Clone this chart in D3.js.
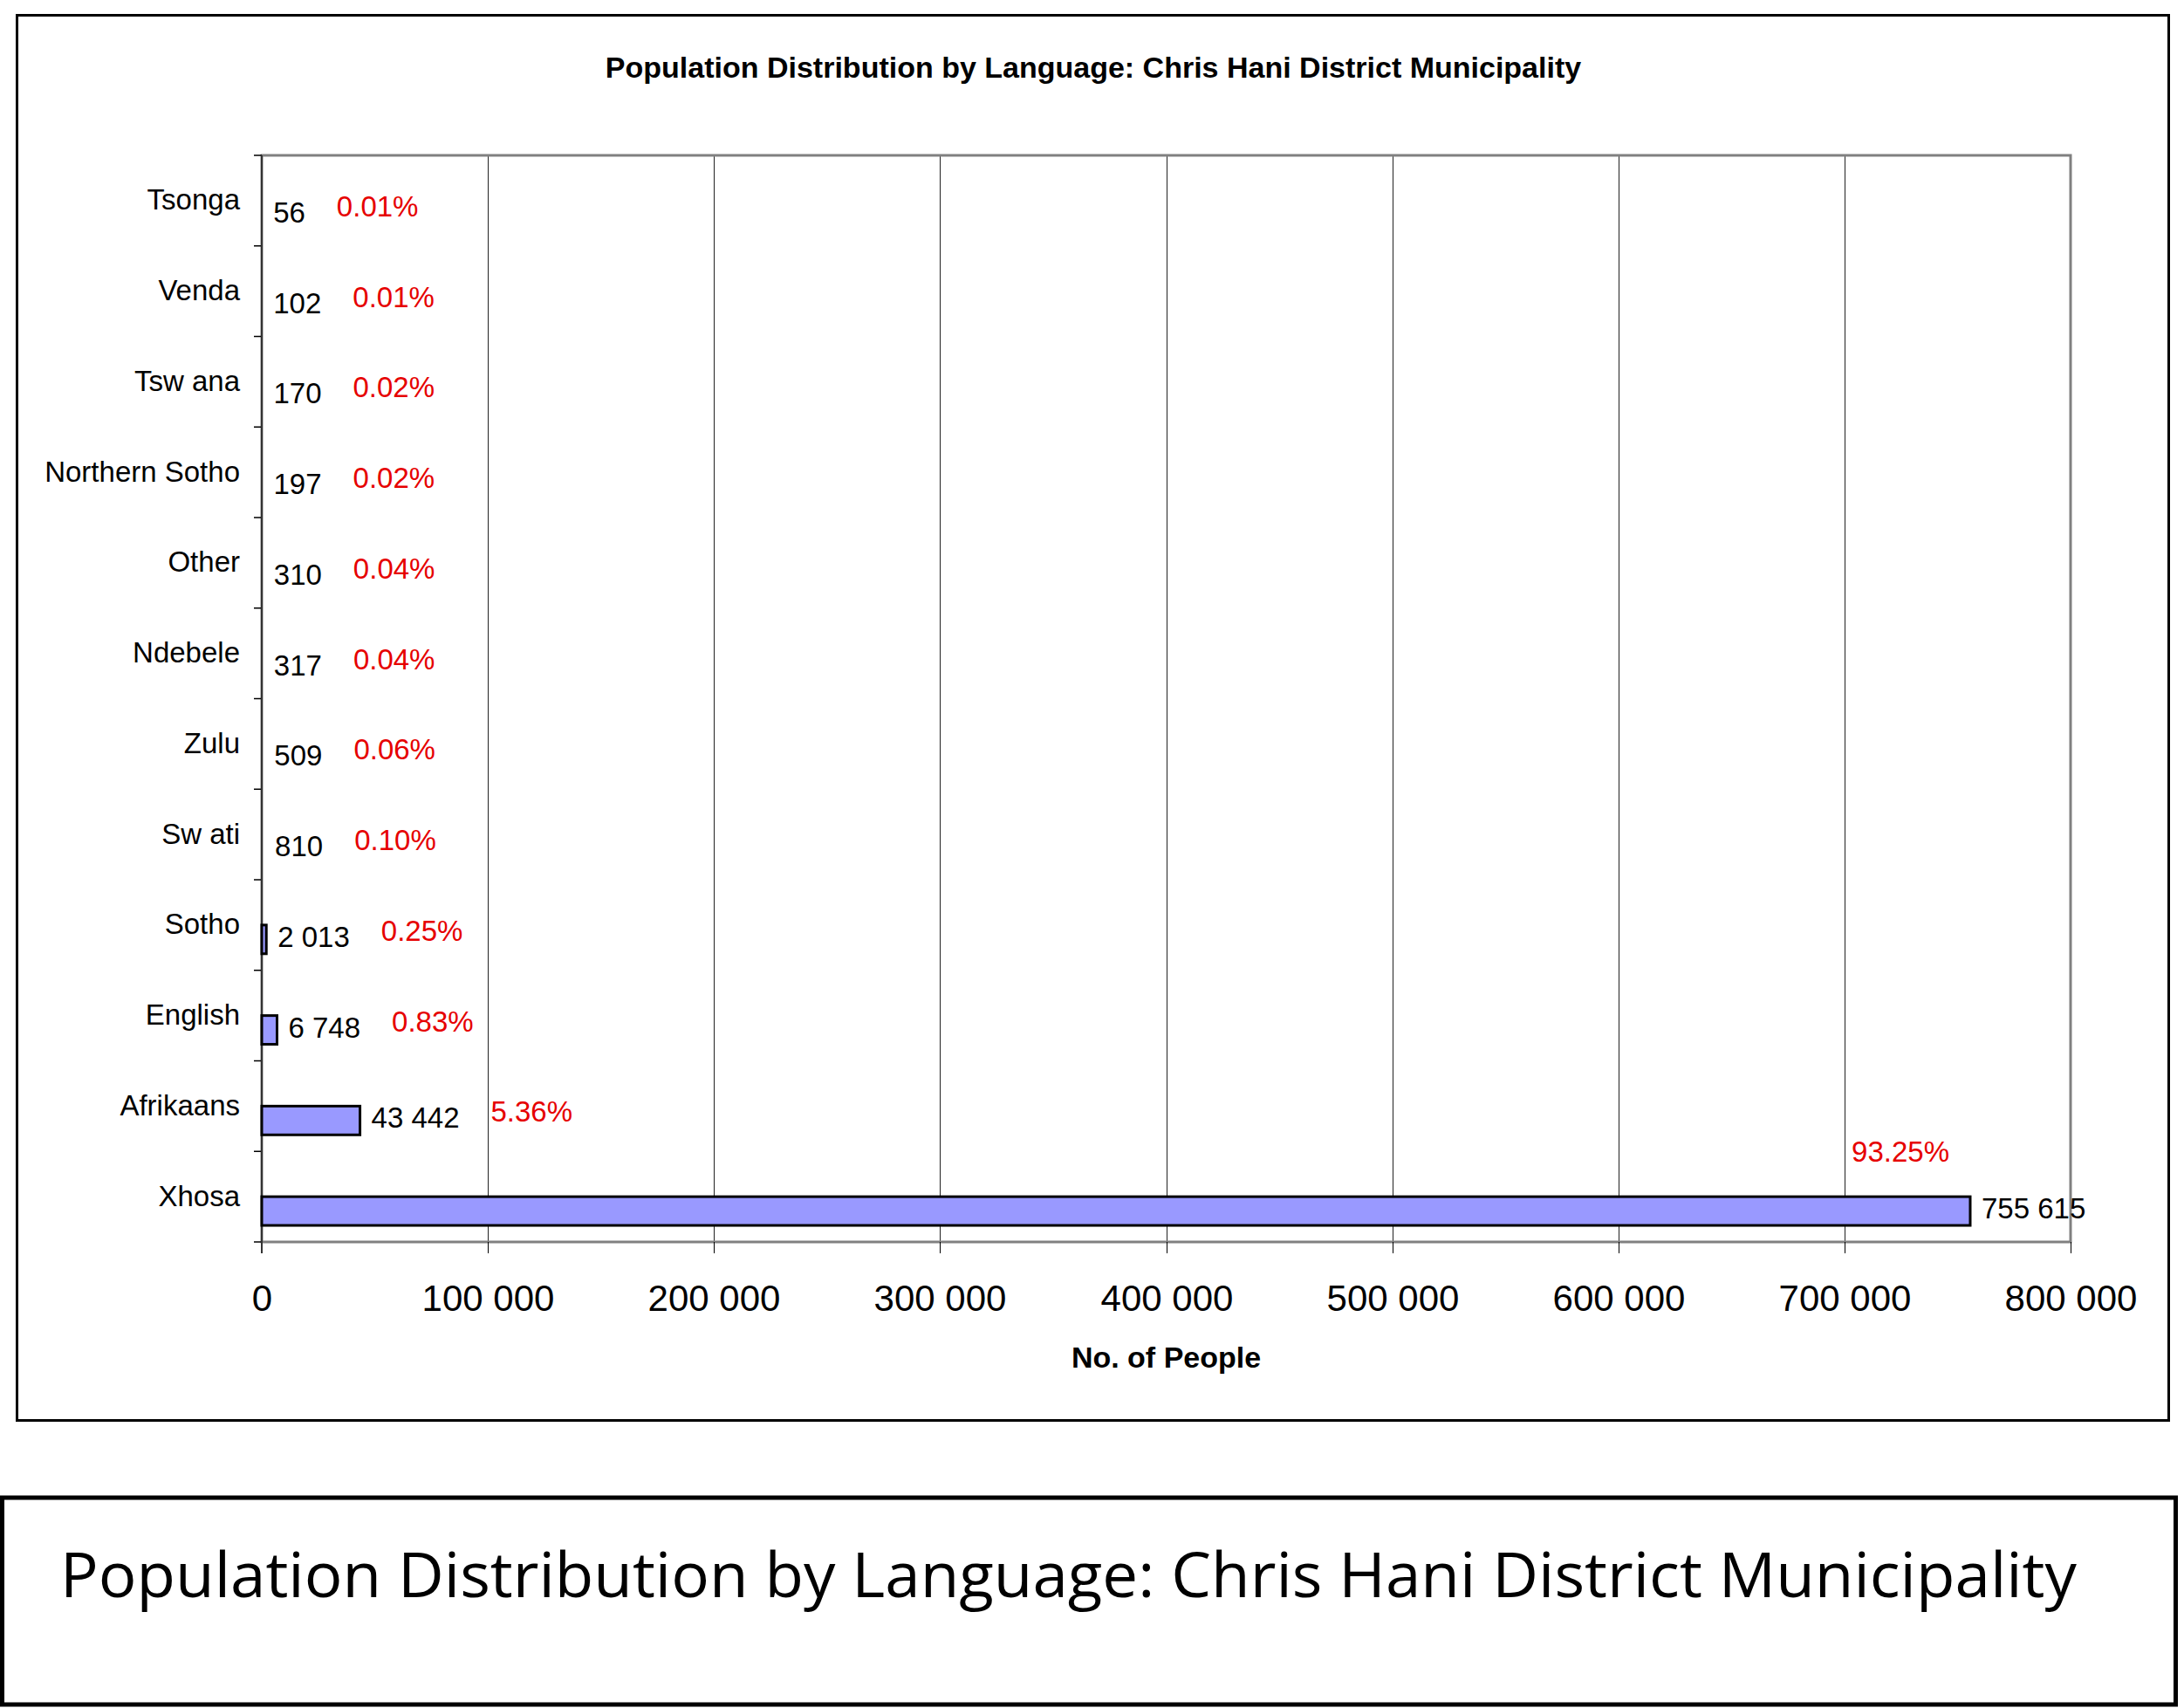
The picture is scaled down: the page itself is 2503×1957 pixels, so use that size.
<!DOCTYPE html>
<html>
<head>
<meta charset="utf-8">
<script src="https://cdn.jsdelivr.net/npm/d3@7"></script>
<style>
  body { margin: 0; background: #fff; }
  svg { display: block; font-family: "Liberation Sans", Arial, sans-serif; }
</style>
</head>
<body>
<script>
// chart data
const categories = ["Tsonga", "Venda", "Tswana", "Northern Sotho", "Other", "Ndebele",
  "Zulu", "Swati", "Sotho", "English", "Afrikaans", "Xhosa"];
const people = [56, 102, 170, 197, 310, 317, 509, 810, 2013, 6748, 43442, 755615];
const shares = [0.01, 0.01, 0.02, 0.02, 0.04, 0.04, 0.06, 0.10, 0.25, 0.83, 5.36, 93.25];
const xTicks = [0, 100000, 200000, 300000, 400000, 500000, 600000, 700000, 800000];
const chartTitle = "Population Distribution by Language: Chris Hani District Municipality";
const xTitle = "No. of People";
const caption = "Population Distribution by Language: Chris Hani District Municipality";

const W = 2503, H = 1957;
const plot = { left: 300, right: 2373, top: 178, bottom: 1423 };

const locale = d3.formatLocale({ decimal: ".", thousands: " ", grouping: [3], currency: ["", ""] });
const fmt = locale.format(",");
const pct = d => d3.format(".2f")(d) + "%";

const rows = categories.map((c, i) => ({ cat: c, people: people[i], share: shares[i] }));

const svg = d3.select("body").append("svg")
  .attr("width", W)
  .attr("height", H);

svg.append("rect").attr("width", W).attr("height", H).attr("fill", "#fff");

// chart frame
svg.append("rect")
  .attr("x", 19.5).attr("y", 17.5)
  .attr("width", 2466).attr("height", 1610)
  .attr("fill", "none").attr("stroke", "#000").attr("stroke-width", 3);

svg.append("text")
  .attr("x", 1253).attr("y", 89)
  .attr("text-anchor", "middle")
  .attr("font-weight", "bold")
  .attr("font-size", 34)
  .text(chartTitle);

const x = d3.scaleLinear().domain([0, 800000]).range([plot.left, plot.right]);
const y = d3.scaleBand().domain(categories).range([plot.top, plot.bottom]);
// two slots per category: the (hidden) share series and the people bar
const slot = d3.scaleBand().domain(["share", "people"]).range([0, y.bandwidth()]).paddingOuter(0.576);
const barMid = d => y(d.cat) + slot("people") + slot.bandwidth() / 2;
const crisp = v => Math.round(v) + 0.5;

// gridlines
svg.append("g")
  .selectAll("line")
  .data(xTicks.slice(1, -1))
  .join("line")
  .attr("x1", d => crisp(x(d))).attr("x2", d => crisp(x(d)))
  .attr("y1", plot.top).attr("y2", plot.bottom)
  .attr("stroke", "#222").attr("stroke-width", 1);

// plot border
svg.append("rect")
  .attr("x", plot.left).attr("y", plot.top)
  .attr("width", plot.right - plot.left).attr("height", plot.bottom - plot.top)
  .attr("fill", "none").attr("stroke", "#808080").attr("stroke-width", 3);

// x axis
const xAxis = svg.append("g")
  .attr("transform", `translate(0,${plot.bottom})`)
  .call(d3.axisBottom(x).tickValues(xTicks).tickSize(13).tickPadding(36).tickFormat(fmt));
xAxis.select(".domain").remove();
xAxis.selectAll(".tick").attr("transform", d => `translate(${crisp(x(d))},0)`);
xAxis.selectAll(".tick line").attr("stroke", "#000").attr("stroke-width", 1);
xAxis.selectAll(".tick text")
  .attr("font-size", 42)
  .attr("font-family", "Liberation Sans, Arial, sans-serif")
  .attr("fill", "#000");

svg.append("text")
  .attr("x", (plot.left + plot.right) / 2).attr("y", 1567)
  .attr("text-anchor", "middle")
  .attr("font-weight", "bold")
  .attr("font-size", 34)
  .text(xTitle);

// y axis: labels at band centres, ticks at band edges
const yAxis = svg.append("g")
  .attr("transform", `translate(${plot.left},0)`)
  .call(d3.axisLeft(y).tickSize(0).tickPadding(25));
yAxis.select(".domain").remove();
yAxis.selectAll(".tick text")
  .attr("font-size", 33)
  .attr("font-family", "Liberation Sans, Arial, sans-serif")
  .attr("fill", "#000")
  .each(function(d) {
    // the source renders a wide gap after "w"
    const parts = d.split(/(?<=w)/);
    if (parts.length < 2) return;
    const t = d3.select(this).text(null);
    parts.forEach((p, i) => t.append("tspan").attr("dx", i ? 9 : 0).text(p));
  });

svg.append("g")
  .selectAll("line")
  .data(categories.map(c => y(c)).concat([plot.bottom]))
  .join("line")
  .attr("x1", plot.left - 9).attr("x2", plot.left)
  .attr("y1", d => d).attr("y2", d => d)
  .attr("stroke", "#000").attr("stroke-width", 1.5);

svg.append("line")
  .attr("x1", plot.left).attr("x2", plot.left)
  .attr("y1", plot.top).attr("y2", plot.bottom + 13)
  .attr("stroke", "#333").attr("stroke-width", 2);

// bars (slivers narrower than the outline are not visible in the source)
svg.append("g")
  .selectAll("rect")
  .data(rows.filter(d => x(d.people) - x(0) >= 3))
  .join("rect")
  .attr("x", x(0))
  .attr("y", d => y(d.cat) + slot("people"))
  .attr("width", d => x(d.people) - x(0))
  .attr("height", slot.bandwidth())
  .attr("fill", "#9999ff")
  .attr("stroke", "#000")
  .attr("stroke-width", 3);

// value labels
const valueLabels = svg.append("g")
  .selectAll("text")
  .data(rows)
  .join("text")
  .attr("x", d => x(d.people) + 13)
  .attr("y", d => barMid(d) - 3)
  .attr("dy", "0.35em")
  .attr("font-size", 33)
  .attr("fill", "#000")
  .text(d => fmt(d.people));

const labelEnd = valueLabels.nodes().map(n => { const b = n.getBBox(); return b.x + b.width; });

// share labels
svg.append("g")
  .selectAll("text")
  .data(rows)
  .join("text")
  .attr("font-size", 33)
  .attr("fill", "#e60000")
  .attr("dy", "0.35em")
  .text(d => pct(d.share))
  .each(function(d, i) {
    const t = d3.select(this);
    const w = this.getComputedTextLength();
    const sx = labelEnd[i] + 36;
    if (sx + w > plot.right) {
      t.attr("text-anchor", "end").attr("x", x(d.people) - 24).attr("y", y(d.cat));
    } else {
      t.attr("x", sx).attr("y", barMid(d) - 10);
    }
  });

// caption box below the chart
svg.append("rect")
  .attr("x", 2.5).attr("y", 1716)
  .attr("width", 2491).attr("height", 237)
  .attr("fill", "none").attr("stroke", "#000").attr("stroke-width", 5);

svg.append("text")
  .attr("x", 69).attr("y", 1830)
  .attr("font-family", "'Open Sans', Lato, sans-serif")
  .attr("font-size", 71)
  .attr("textLength", 2311)
  .attr("lengthAdjust", "spacingAndGlyphs")
  .attr("fill", "#000")
  .text(caption);
</script>
</body>
</html>
